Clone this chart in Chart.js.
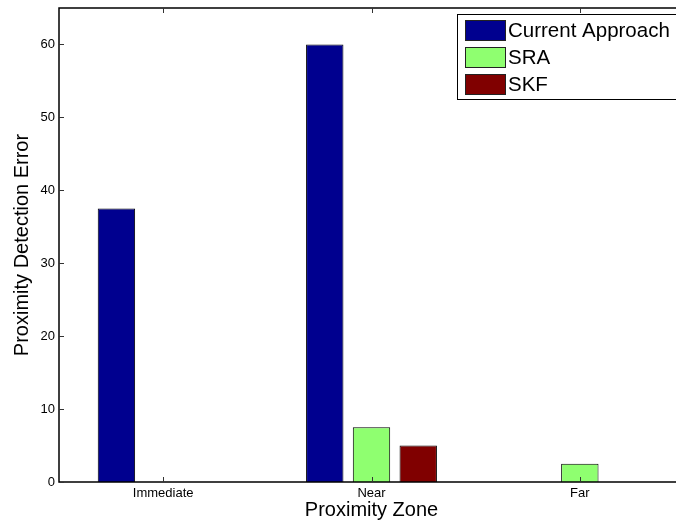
<!DOCTYPE html>
<html>
<head>
<meta charset="utf-8">
<script src="https://cdn.jsdelivr.net/npm/chart.js@4/dist/chart.umd.min.js"></script>
<style>
  html, body { margin: 0; padding: 0; background: #fff; overflow: hidden; }
  #clip { width: 676px; height: 527px; overflow: hidden; position: relative; }
  #wrap { width: 692px; height: 527px; position: absolute; left: 0; top: 0; }
</style>
</head>
<body>
<div id="clip"><div id="wrap"><canvas id="c"></canvas></div></div>
<script>
const categories = ['Immediate', 'Near', 'Far'];
const seriesNames = ['Current Approach', 'SRA', 'SKF'];
const currentApproach = [37.5, 60, 0];
const sra = [0, 7.5, 2.5];
const skf = [0, 5, 0];
const yTicks = [0, 10, 20, 30, 40, 50, 60];
const yMax = 65;
const xTitle = 'Proximity Zone';
const yTitle = 'Proximity Detection Error';

const colors = ['#00008F', '#8FFF70', '#800000'];
const FONT = "'Liberation Sans', Arial, Helvetica, sans-serif";

const frameAndTicks = {
  id: 'frameAndTicks',
  afterDatasetsDraw(chart) {
    const { ctx, chartArea: a, scales } = chart;
    const L = 5;
    ctx.save();
    ctx.strokeStyle = '#000';
    ctx.lineWidth = 1.5;
    ctx.beginPath();
    ctx.rect(a.left, a.top, a.right - a.left, a.bottom - a.top);
    ctx.stroke();
    ctx.lineWidth = 1;
    ctx.strokeStyle = '#333';
    ctx.beginPath();
    yTicks.forEach(v => {
      const y = Math.round(scales.y.getPixelForValue(v)) + 0.5;
      ctx.moveTo(a.left, y); ctx.lineTo(a.left + L, y);
      ctx.moveTo(a.right, y); ctx.lineTo(a.right - L, y);
    });
    categories.forEach((c, i) => {
      const x = Math.round(scales.x.getPixelForValue(i)) + 0.5;
      ctx.moveTo(x, a.bottom); ctx.lineTo(x, a.bottom - L);
      ctx.moveTo(x, a.top); ctx.lineTo(x, a.top + L);
    });
    ctx.stroke();
    ctx.restore();
  }
};

const legendBox = {
  id: 'legendBox',
  afterDraw(chart) {
    const { ctx } = chart;
    const x0 = 457.5, y0 = 14.5, w = 240, h = 85;
    ctx.save();
    ctx.fillStyle = '#fff';
    ctx.fillRect(x0, y0, w, h);
    ctx.strokeStyle = '#000';
    ctx.lineWidth = 1;
    ctx.strokeRect(x0, y0, w, h);
    ctx.font = '20.5px ' + FONT;
    ctx.textBaseline = 'middle';
    ctx.textAlign = 'left';
    chart.data.datasets.forEach((ds, i) => {
      const sy = 20.5 + i * 27;
      ctx.fillStyle = ds.backgroundColor;
      ctx.fillRect(465.5, sy, 40, 20);
      ctx.strokeStyle = '#222';
      ctx.strokeRect(465.5, sy, 40, 20);
      ctx.fillStyle = '#000';
      ctx.fillText(ds.label, 508, sy + 11);
    });
    ctx.restore();
  }
};

new Chart(document.getElementById('c'), {
  type: 'bar',
  data: {
    labels: categories,
    datasets: [
      { label: seriesNames[0], data: currentApproach, backgroundColor: colors[0] },
      { label: seriesNames[1], data: sra, backgroundColor: colors[1] },
      { label: seriesNames[2], data: skf, backgroundColor: colors[2] }
    ].map(d => Object.assign(d, { borderColor: '#000', borderWidth: 1, categoryPercentage: 0.673, barPercentage: 0.8 }))
  },
  options: {
    responsive: true,
    maintainAspectRatio: false,
    animation: false,
    devicePixelRatio: 1,
    layout: { padding: { left: 0, right: 8, top: 8, bottom: 0 } },
    plugins: { legend: { display: false }, tooltip: { enabled: false } },
    scales: {
      x: {
        grid: { display: false, drawTicks: false },
        border: { display: false },
        ticks: { color: '#000', font: { family: FONT, size: 13 }, padding: 4, maxRotation: 0 },
        title: { display: true, text: xTitle, color: '#000', font: { family: FONT, size: 20 }, padding: { top: 0, bottom: 5 } },
        afterFit(s) { s.height = 45; s.paddingLeft = 0; s.paddingRight = 0; }
      },
      y: {
        min: 0, max: yMax,
        grid: { display: false, drawTicks: false },
        border: { display: false },
        ticks: { color: '#000', font: { family: FONT, size: 13 }, padding: 4 },
        afterBuildTicks(s) { s.ticks = yTicks.map(v => ({ value: v })); },
        title: { display: true, text: yTitle, color: '#000', font: { family: FONT, size: 20 }, padding: { top: 10, bottom: 0 } },
        afterFit(s) { s.width = 59; s.paddingTop = 0; s.paddingBottom = 0; }
      }
    }
  },
  plugins: [frameAndTicks, legendBox]
});
</script>
</body>
</html>
